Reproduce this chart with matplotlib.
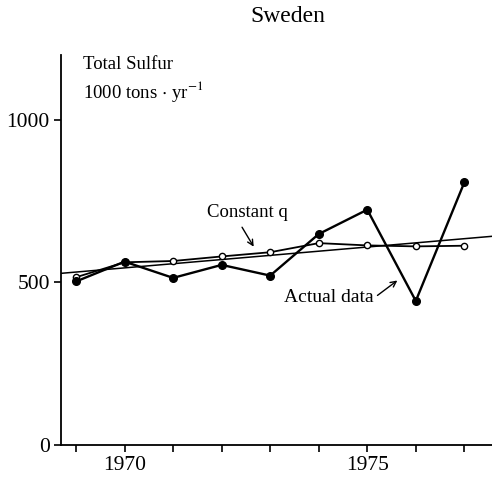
import matplotlib
matplotlib.use("Agg")
import matplotlib.pyplot as plt

plt.rcParams['font.family'] = ['Liberation Serif', 'DejaVu Serif']
plt.rcParams['mathtext.fontset'] = 'stix'

# data (1000 tons/yr)
years = [1969, 1970, 1971, 1972, 1973, 1974, 1975, 1976, 1977]
actual = [503, 564, 514, 554, 521, 649, 724, 443, 808]
constant_q = [516, 562, 566, 580, 593, 621, 614, 611, 613]
trend_years = [1968.69, 1977.57]
trend_values = [528, 642]

y_ticks = [0, 500, 1000]
x_ticks = [1970, 1975]
x_minor = [1969, 1971, 1972, 1973, 1974, 1976, 1977]


fig = plt.figure(figsize=(4.92, 4.83), dpi=100)
ax = fig.add_axes([0.124, 0.079, 0.876, 0.807])

ax.plot(trend_years, trend_values, color='black', lw=1.1)
ax.plot(years, constant_q, color='black', lw=1.3, marker='o', ms=4.5,
        mfc='white', mec='black', mew=1.0)
ax.plot(years, actual, color='black', lw=1.7, marker='o', ms=5.5,
        mfc='black', mec='black')

ax.set_xlim(1968.69, 1977.57)
ax.set_ylim(0, 1200)

for s in ['top', 'right']:
    ax.spines[s].set_visible(False)
ax.spines['left'].set_linewidth(1.3)
ax.spines['bottom'].set_linewidth(1.3)

ax.set_yticks(y_ticks)
ax.set_yticklabels([str(v) for v in y_ticks], fontsize=15.5)
ax.set_xticks(x_ticks)
ax.set_xticklabels([str(v) for v in x_ticks], fontsize=15.5)
ax.set_xticks(x_minor, minor=True)
ax.tick_params(axis='both', which='both', direction='out', length=5,
               width=1.2, pad=3)

# labels and arrows
ax.text(1969.14, 1172, 'Total Sulfur', fontsize=13.5, ha='left', va='center')
ax.text(1969.14, 1089, r'1000 tons $\cdot$ yr$^{-1}$', fontsize=13.5,
        ha='left', va='center')

ax.text(1972.53, 715, 'Constant q', fontsize=13.5, ha='center', va='center')
ax.annotate('', xy=(1972.66, 610), xytext=(1972.42, 670),
            arrowprops=dict(arrowstyle='->', color='black', lw=1.0,
                            shrinkA=0, shrinkB=0))
ax.text(1974.2, 454, 'Actual data', fontsize=14, ha='center', va='center')
ax.annotate('', xy=(1975.62, 506), xytext=(1975.21, 460),
            arrowprops=dict(arrowstyle='->', color='black', lw=1.0,
                            shrinkA=0, shrinkB=0))

fig.text(0.585, 0.966, 'Sweden', fontsize=17, ha='center', va='center')

plt.savefig('out.png', dpi=100)
